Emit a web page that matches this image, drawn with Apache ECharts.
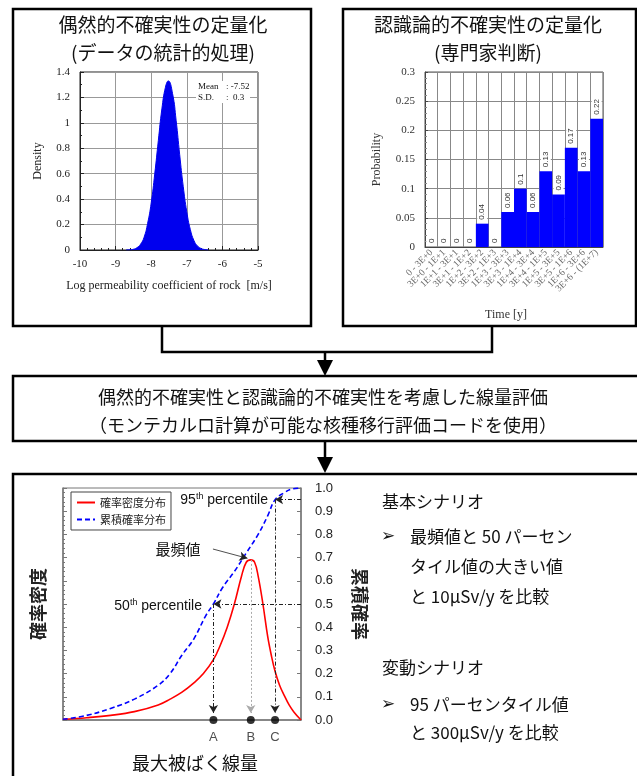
<!DOCTYPE html>
<html>
<head>
<meta charset="utf-8">
<script src="https://cdn.jsdelivr.net/npm/echarts@6/dist/echarts.min.js"></script>
<style>
html, body { margin: 0; padding: 0; background: #fff; }
#chart { width: 637px; height: 776px; }
</style>
</head>
<body>
<div id="chart"></div>
<script>
// --- data ---
// top-left: density of log permeability (mean -7.52, s.d. 0.3)
var permX = [-8.7, -8.6, -8.5, -8.4, -8.3, -8.2, -8.1, -8.0, -7.9, -7.8, -7.7, -7.6, -7.52, -7.4, -7.3, -7.2, -7.1, -7.0, -6.9, -6.8, -6.7, -6.6, -6.5, -6.4]
var permDensity = [0.001, 0.002, 0.006, 0.018, 0.045, 0.10, 0.21, 0.37, 0.60, 0.86, 1.11, 1.28, 1.33, 1.23, 1.02, 0.75, 0.50, 0.30, 0.16, 0.075, 0.032, 0.012, 0.004, 0.001]

// top-right: expert judgement per time bin
var timeBins = ['0 - 3E+0', '3E+0 - 1E+1', '1E+1 - 3E+1', '3E+1 - 1E+2', '1E+2 - 3E+2', '3E+2 - 1E+3', '1E+3 - 3E+3', '3E+3 - 1E+4', '1E+4 - 3E+4', '3E+4 - 1E+5', '1E+5 - 3E+5', '3E+5 - 1E+6', '1E+6 - 3E+6', '3E+6 - (1E+7)']
var binProb = [0, 0, 0, 0, 0.04, 0, 0.06, 0.1, 0.06, 0.13, 0.09, 0.17, 0.13, 0.22]

// bottom: schematic dose distribution (x in % of axis length)
var pdfX = [0, 10, 20, 30, 40, 45, 50, 55, 59, 63.2, 66, 69, 72, 75, 77, 78.9, 80.5, 82, 84, 86, 87.5, 89.1, 91, 93, 95, 97, 100]
var pdfY = [0.003, 0.01, 0.02, 0.036, 0.065, 0.09, 0.12, 0.16, 0.2, 0.26, 0.32, 0.40, 0.50, 0.62, 0.68, 0.69, 0.68, 0.62, 0.50, 0.36, 0.28, 0.21, 0.15, 0.105, 0.065, 0.035, 0]
var cdfX = [0, 10, 20, 30, 40, 45, 50, 55, 60, 63.2, 67, 72, 77, 82, 86, 89.1, 93, 96, 100]
var cdfY = [0.003, 0.02, 0.05, 0.09, 0.15, 0.2, 0.28, 0.35, 0.45, 0.50, 0.57, 0.64, 0.72, 0.80, 0.88, 0.95, 0.98, 0.995, 1.0]
var markerX = [63.2, 78.9, 89.1]
var markerNames = ['A', 'B', 'C']
var modePeak = 0.69

var JP = '"Noto Sans CJK JP", sans-serif'
var SERIF = '"Liberation Serif", "DejaVu Serif", serif'
var SANS = '"Liberation Sans", Arial, sans-serif'

function zip (xs, ys) {
  return xs.map(function (x, i) { return [x, ys[i]] })
}

var chart = echarts.init(document.getElementById('chart'))

function txt (text, x, y, size, opts) {
  opts = opts || {}
  return {
    type: 'text',
    x: x,
    y: y,
    z: opts.z || 20,
    style: {
      text: text,
      font: (opts.weight || 'normal') + ' ' + size + 'px ' + (opts.family || JP),
      fill: opts.color || '#111',
      textAlign: opts.align || 'left',
      textVerticalAlign: 'middle',
      rich: opts.rich
    }
  }
}

var boxStyle = { fill: 'none', stroke: '#000', lineWidth: 2.5 }

var supRich = {
  a: { fontFamily: SANS, fontSize: 14, color: '#111' },
  s: { fontFamily: SANS, fontSize: 9, color: '#111', verticalAlign: 'top', padding: [0, 0, 6, 0] }
}

var option = {
  animation: false,
  backgroundColor: '#fff',
  grid: [
    { left: 80, top: 72, width: 178, height: 178, show: true, borderColor: '#222', borderWidth: 1, backgroundColor: '#fff' },
    { left: 425, top: 72, width: 178, height: 175, show: true, borderColor: '#555', borderWidth: 1, backgroundColor: '#fff' },
    { left: 63, top: 488, width: 238, height: 232, show: true, borderColor: '#777', borderWidth: 1, backgroundColor: '#fff' }
  ],
  legend: {
    data: ['確率密度分布', '累積確率分布'],
    orient: 'vertical',
    left: 71,
    top: 492,
    padding: [5, 5, 5, 5],
    itemGap: 6,
    itemWidth: 18,
    itemHeight: 8,
    borderColor: '#444',
    borderWidth: 1,
    backgroundColor: '#fff',
    itemStyle: { opacity: 0, color: 'rgba(0,0,0,0)', borderWidth: 0 },
    textStyle: { fontFamily: JP, fontSize: 11, color: '#222' }
  },
  xAxis: [
    {
      gridIndex: 0,
      type: 'value',
      min: -10,
      max: -5,
      interval: 1,
      axisLine: { lineStyle: { color: '#222' } },
      axisTick: { inside: true, length: 4, lineStyle: { color: '#222' } },
      minorTick: { show: true, splitNumber: 5, length: 2, lineStyle: { color: '#222' } },
      axisLabel: { color: '#222', fontFamily: SERIF, fontSize: 11, margin: 9 },
      splitLine: { show: true, lineStyle: { color: '#999' } },
      name: 'Log permeability coefficient of rock  [m/s]',
      nameLocation: 'middle',
      nameGap: 30,
      nameTextStyle: { fontFamily: SERIF, fontSize: 12, color: '#222' }
    },
    {
      gridIndex: 1,
      type: 'category',
      data: timeBins,
      axisLine: { lineStyle: { color: '#444' } },
      axisTick: { length: 3, lineStyle: { color: '#444' } },
      axisLabel: { rotate: 45, interval: 0, fontFamily: SERIF, fontSize: 9.5, color: '#666', margin: 4 },
      splitLine: { show: true, interval: 0, lineStyle: { color: '#888' } }
    },
    {
      gridIndex: 2,
      type: 'value',
      min: 0,
      max: 100,
      axisLabel: { show: false },
      axisTick: { show: false },
      splitLine: { show: false },
      axisLine: { lineStyle: { color: '#777', width: 1.5 } }
    }
  ],
  yAxis: [
    {
      gridIndex: 0,
      type: 'value',
      min: 0,
      max: 1.4,
      interval: 0.2,
      axisLine: { show: true, lineStyle: { color: '#222' } },
      axisTick: { show: true, inside: true, length: 4, lineStyle: { color: '#222' } },
      minorTick: { show: true, splitNumber: 2, length: 2, lineStyle: { color: '#222' } },
      axisLabel: { color: '#222', fontFamily: SERIF, fontSize: 11, margin: 10 },
      splitLine: { show: true, lineStyle: { color: '#999' } },
      name: 'Density',
      nameLocation: 'middle',
      nameGap: 36,
      nameTextStyle: { fontFamily: SERIF, fontSize: 12, color: '#222' }
    },
    {
      gridIndex: 1,
      type: 'value',
      min: 0,
      max: 0.3,
      interval: 0.05,
      axisLine: { show: true, lineStyle: { color: '#444' } },
      axisTick: { show: true, inside: true, length: 3, lineStyle: { color: '#444' } },
      minorTick: { show: true, splitNumber: 5, length: 2, lineStyle: { color: '#888' } },
      axisLabel: { color: '#333', fontFamily: SERIF, fontSize: 11, margin: 10 },
      splitLine: { show: true, lineStyle: { color: '#888' } },
      name: 'Probability',
      nameLocation: 'middle',
      nameGap: 42,
      nameTextStyle: { fontFamily: SERIF, fontSize: 12, color: '#333' }
    },
    {
      gridIndex: 2,
      type: 'value',
      min: 0,
      max: 1,
      interval: 0.1,
      axisLabel: { show: false },
      axisLine: { show: true, lineStyle: { color: '#777', width: 1.5 } },
      axisTick: { show: true, inside: true, length: 4, lineStyle: { color: '#777' } },
      minorTick: { show: true, splitNumber: 5, length: 2, lineStyle: { color: '#777' } },
      splitLine: { show: false },
      name: '確率密度',
      nameLocation: 'middle',
      nameRotate: 90,
      nameGap: 16,
      nameTextStyle: { fontFamily: JP, fontSize: 18, fontWeight: 'bold', color: '#222' }
    },
    {
      gridIndex: 2,
      type: 'value',
      position: 'right',
      min: 0,
      max: 1,
      interval: 0.1,
      axisLine: { show: true, lineStyle: { color: '#777', width: 1.5 } },
      axisTick: { show: true, inside: true, length: 4, lineStyle: { color: '#777' } },
      axisLabel: {
        formatter: function (v) { return v.toFixed(1) },
        fontFamily: SANS,
        fontSize: 13,
        color: '#222',
        margin: 14
      },
      splitLine: { show: false },
      name: '累積確率',
      nameLocation: 'middle',
      nameRotate: -90,
      nameGap: 50,
      nameTextStyle: { fontFamily: JP, fontSize: 18, fontWeight: 'bold', color: '#222' }
    }
  ],
  series: [
    {
      type: 'line',
      xAxisIndex: 0,
      yAxisIndex: 0,
      data: zip(permX, permDensity),
      smooth: true,
      symbol: 'none',
      lineStyle: { color: '#0000ee', width: 1 },
      areaStyle: { color: '#0000ee', opacity: 1 }
    },
    {
      type: 'bar',
      xAxisIndex: 1,
      yAxisIndex: 1,
      data: binProb,
      barCategoryGap: '0%',
      itemStyle: { color: '#0000ff' },
      label: {
        show: true,
        position: 'top',
        rotate: 90,
        align: 'left',
        verticalAlign: 'middle',
        distance: 3,
        fontFamily: SANS,
        fontSize: 8,
        color: '#333',
        backgroundColor: '#fff',
        padding: [1, 1, 1, 1]
      }
    },
    {
      name: '確率密度分布',
      type: 'line',
      xAxisIndex: 2,
      yAxisIndex: 2,
      data: zip(pdfX, pdfY),
      smooth: 0.4,
      symbol: 'none',
      itemStyle: { color: '#ff0000' },
      lineStyle: { color: '#ff0000', width: 1.6 }
    },
    {
      name: '累積確率分布',
      type: 'line',
      xAxisIndex: 2,
      yAxisIndex: 3,
      data: zip(cdfX, cdfY),
      smooth: 0.4,
      symbol: 'none',
      itemStyle: { color: '#0000ff' },
      lineStyle: { color: '#0000ff', width: 1.6, type: [5, 3] },
      markLine: {
        silent: true,
        symbol: ['none', 'arrow'],
        symbolSize: [7, 8],
        label: { show: false },
        lineStyle: { color: '#222', width: 1, type: [4, 2, 1, 2] },
        data: [
          [{ coord: [100, 0.95] }, { coord: [markerX[2], 0.95] }],
          [{ coord: [markerX[2], 0.95] }, { coord: [markerX[2], 0.03] }],
          [{ coord: [100, 0.5] }, { coord: [markerX[0], 0.5] }],
          [{ coord: [markerX[0], 0.5] }, { coord: [markerX[0], 0.03] }],
          [{ coord: [markerX[1], modePeak], lineStyle: { color: '#aaa', type: [2, 2] } }, { coord: [markerX[1], 0.03] }],
          [{ coord: [63, 0.737], lineStyle: { color: '#222', type: 'solid', width: 0.8 } }, { coord: [77.5, 0.697] }]
        ]
      }
    },
    {
      type: 'scatter',
      xAxisIndex: 2,
      yAxisIndex: 3,
      clip: false,
      data: markerX.map(function (x) { return [x, 0] }),
      symbolSize: 8,
      itemStyle: { color: '#000' },
      label: {
        show: true,
        position: 'bottom',
        distance: 7,
        formatter: function (p) { return markerNames[p.dataIndex] },
        fontFamily: SANS,
        fontSize: 13,
        color: '#222'
      }
    }
  ],
  graphic: [
    // frames and flow connectors
    { type: 'rect', z: 5, shape: { x: 13, y: 9, width: 298, height: 317 }, style: boxStyle },
    { type: 'rect', z: 5, shape: { x: 343, y: 9, width: 293, height: 317 }, style: boxStyle },
    { type: 'polyline', z: 5, shape: { points: [[162, 326], [162, 352], [492, 352], [492, 326]] }, style: { stroke: '#000', lineWidth: 2.5, fill: 'none' } },
    { type: 'polyline', z: 5, shape: { points: [[325, 352], [325, 362]] }, style: { stroke: '#000', lineWidth: 2.5 } },
    { type: 'polygon', z: 5, shape: { points: [[317, 360], [333, 360], [325, 376]] }, style: { fill: '#000' } },
    { type: 'rect', z: 5, shape: { x: 13, y: 376, width: 640, height: 65 }, style: boxStyle },
    { type: 'polyline', z: 5, shape: { points: [[325, 441], [325, 458]] }, style: { stroke: '#000', lineWidth: 2.5 } },
    { type: 'polygon', z: 5, shape: { points: [[317, 457], [333, 457], [325, 473]] }, style: { fill: '#000' } },
    { type: 'rect', z: 5, shape: { x: 13, y: 474, width: 640, height: 320 }, style: boxStyle },

    // titles
    txt('偶然的不確実性の定量化', 163, 25, 19, { align: 'center' }),
    txt('(データの統計的処理)', 163, 53, 19, { align: 'center' }),
    txt('認識論的不確実性の定量化', 488, 25, 19, { align: 'center' }),
    txt('(専門家判断)', 488, 53, 19, { align: 'center' }),
    txt('偶然的不確実性と認識論的不確実性を考慮した線量評価', 323, 397, 18, { align: 'center' }),
    txt('（モンテカルロ計算が可能な核種移行評価コードを使用）', 323, 425, 18, { align: 'center' }),
    txt('Time [y]', 506, 315, 12, { align: 'center', family: SERIF, color: '#333' }),

    // statistics note in top-left chart
    { type: 'rect', z: 10, shape: { x: 196, y: 81, width: 54, height: 22 }, style: { fill: '#fff' } },
    txt('Mean', 198, 87, 9, { family: SERIF }),
    txt(': -7.52', 226, 87, 9, { family: SERIF }),
    txt('S.D.', 198, 98, 9, { family: SERIF }),
    txt(':  0.3', 226, 98, 9, { family: SERIF }),

    // bottom chart annotations
    txt('{a|95}{s|th}{a| percentile}', 268, 500, 14, { align: 'right', family: SANS, rich: supRich }),
    txt('{a|50}{s|th}{a| percentile}', 202, 606, 14, { align: 'right', family: SANS, rich: supRich }),
    txt('最頻値', 178, 549, 15, { align: 'center' }),
    txt('最大被ばく線量', 195, 763, 18, { align: 'center' }),

    // scenario notes
    txt('基本シナリオ', 382, 502, 17),
    txt('➢', 381, 537, 17, { family: '"DejaVu Sans", sans-serif', weight: 'bold' }),
    txt('最頻値と 50 パーセン', 410, 537, 17),
    txt('タイル値の大きい値', 410, 567, 17),
    txt('と 10μSv/y を比較', 410, 597, 17),
    txt('変動シナリオ', 382, 668, 17),
    txt('➢', 381, 705, 17, { family: '"DejaVu Sans", sans-serif', weight: 'bold' }),
    txt('95 パーセンタイル値', 410, 705, 17),
    txt('と 300μSv/y を比較', 410, 733, 17)
  ]
}

chart.setOption(option)
</script>
</body>
</html>
